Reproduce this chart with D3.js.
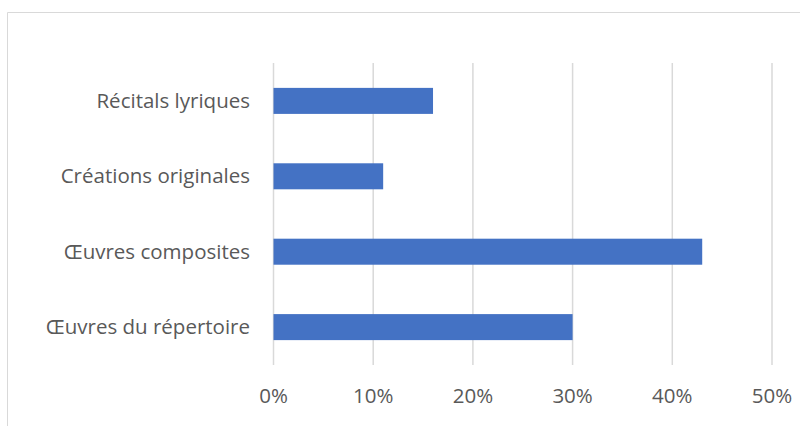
<!DOCTYPE html>
<html>
<head>
<meta charset="utf-8">
<script src="https://cdn.jsdelivr.net/npm/d3@7"></script>
<style>
  body { margin: 0; background: #fff; }
  text { font-family: "Open Sans", sans-serif; fill: #595959; }
</style>
</head>
<body>
<script>
var categories = ['Récitals lyriques', 'Créations originales', 'Œuvres composites', 'Œuvres du répertoire'];
var values = [0.16, 0.11, 0.43, 0.30];
var ticks = [0, 0.1, 0.2, 0.3, 0.4, 0.5];

var width = 800, height = 426;

var svg = d3.select('body').append('svg').attr('width', width).attr('height', height);

// chart frame (cut off at right and bottom)
svg.append('path')
  .attr('d', 'M7.5 ' + height + ' V12.5 H' + width)
  .attr('fill', 'none').attr('stroke', '#d9d9d9').attr('stroke-width', 1);

var x = d3.scaleLinear().domain([0, 0.5]).range([273.5, 772]);
var y = d3.scaleBand().domain(categories).range([63, 365]).paddingInner(0.655).paddingOuter(0.33);

// gridlines
svg.append('g').selectAll('line').data(ticks).enter().append('line')
  .attr('x1', function(d) { return x(d); }).attr('x2', function(d) { return x(d); })
  .attr('y1', 63).attr('y2', 365)
  .attr('stroke', '#d9d9d9').attr('stroke-width', 1.5);

// bars
svg.append('g').selectAll('rect').data(values).enter().append('rect')
  .attr('x', x(0))
  .attr('y', function(d, i) { return y(categories[i]); })
  .attr('width', function(d) { return x(d) - x(0); })
  .attr('height', y.bandwidth())
  .attr('fill', '#4472c4');

// category labels
svg.append('g').selectAll('text').data(categories).enter().append('text')
  .attr('x', 250)
  .attr('y', function(d) { return y(d) + y.bandwidth() / 2; })
  .attr('dy', '0.35em')
  .attr('text-anchor', 'end')
  .style('font-size', '20.5px')
  .text(function(d) { return d; });

// tick labels
svg.append('g').selectAll('text').data(ticks).enter().append('text')
  .attr('x', function(d) { return x(d); })
  .attr('y', 396)
  .attr('dy', '0.35em')
  .attr('text-anchor', 'middle')
  .style('font-size', '20.5px')
  .text(d3.format('.0%'));
</script>
</body>
</html>
